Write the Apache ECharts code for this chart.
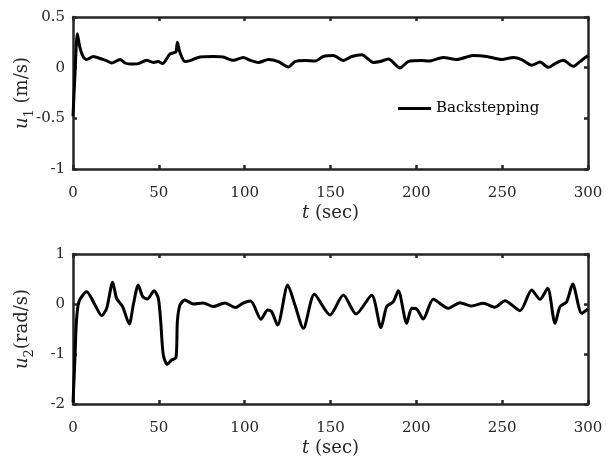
<!DOCTYPE html>
<html>
<head>
<meta charset="utf-8">
<script src="https://cdn.jsdelivr.net/npm/echarts@6/dist/echarts.min.js"></script>
<style>html,body{margin:0;padding:0;background:#fff}#c{width:606px;height:462px}</style>
</head>
<body>
<div id="c"></div>
<script>
var t1 = [0,1.2,2.5,4,6,8,11.8,16.7,19.5,22.5,27.4,30.3,33.2,38,42.9,46.8,49.7,52.2,56.5,59.4,60.1,60.8,62.3,65.2,68.2,74,81.7,87.5,93.4,99.2,103,108,113.8,119.6,125.4,129.3,135.1,141,145.8,151.6,157.5,162.3,168.2,175,178.8,183.7,190.5,195.3,203,207,215.7,223.5,233.2,241,249.7,256.5,261.4,267.2,272,276.9,280.8,285.6,291.4,295.3,300];
var u1 = [-0.48,-0.05,0.335,0.2,0.105,0.08,0.11,0.085,0.07,0.046,0.08,0.046,0.036,0.04,0.072,0.052,0.06,0.04,0.135,0.15,0.16,0.25,0.15,0.06,0.07,0.105,0.11,0.105,0.072,0.1,0.075,0.052,0.08,0.06,0.007,0.06,0.07,0.065,0.11,0.12,0.07,0.11,0.128,0.052,0.06,0.085,-0.003,0.06,0.07,0.065,0.1,0.08,0.12,0.11,0.08,0.1,0.08,0.023,0.055,0.003,0.04,0.072,0.013,0.06,0.12];
var t2 = [0,1,2,3.5,8,12.8,16.7,19.6,23.1,25.4,28.9,32.8,35.1,38,40.6,43.3,47.2,49.7,51.1,52.6,54.9,57.5,60,60.8,62.3,65.2,70.1,75.9,81.7,88.5,94.4,99.2,103.5,109.5,113.4,115.7,119.2,125.1,129.3,134.2,140.6,149.7,157.5,164.9,174,179.4,182.7,186.6,189.5,194.4,197.3,200.2,204,209.9,218.6,225.4,232.2,239,245.8,251.6,260.4,267.2,272,276.5,280.8,283.7,287.6,291.1,296.3,300];
var u2 = [-1.97,-1.2,-0.35,0.05,0.247,-0.02,-0.233,-0.087,0.433,0.113,-0.053,-0.4,-0.02,0.38,0.147,0.1,0.267,0.113,-0.353,-1.02,-1.207,-1.12,-1.073,-0.35,-0.02,0.08,0.0,0.02,-0.05,0.02,-0.07,0.02,0.06,-0.307,-0.12,-0.153,-0.42,0.38,-0.02,-0.487,0.193,-0.22,0.18,-0.2,0.173,-0.473,-0.053,0.047,0.267,-0.387,-0.087,-0.1,-0.3,0.093,-0.087,0.027,-0.04,0.013,-0.067,0.067,-0.133,0.28,0.093,0.313,-0.387,-0.053,0.047,0.4,-0.187,-0.1];
var xTicks = [0,300,50];
var y1Ticks = [-1,0.5,0.5];
var y2Ticks = [-2,1,1];
var seriesName = 'Backstepping';
var xName = '{i|t} (sec)';
var y1Name = '{i|u}{s|1} (m/s)';
var y2Name = '{i|u}{s|2}(rad/s)';

function pairs(t, v) { return t.map(function (x, i) { return [x, v[i]]; }); }

var FONT = 'DejaVu Serif';
var AX = '#262626';
var nameRich = {
  i: { fontStyle: 'italic', fontFamily: FONT, fontSize: 18, color: AX },
  s: { fontFamily: FONT, fontSize: 13, color: AX, padding: [14, 0, 0, 0] }
};

function xAx(grid, main) {
  return {
    type: 'value', gridIndex: grid, position: main ? 'bottom' : 'top',
    min: xTicks[0], max: xTicks[1], interval: xTicks[2],
    axisLine: { show: true, onZero: false, lineStyle: { color: AX, width: 2.5 } },
    axisTick: { show: true, inside: true, length: 4, lineStyle: { color: AX, width: 2.5 } },
    axisLabel: { show: main, margin: 17, fontFamily: FONT, fontSize: 15, color: AX },
    splitLine: { show: false },
    name: main ? xName : '', nameLocation: 'middle', nameGap: 35, nameMoveOverlap: false,
    nameTextStyle: { fontFamily: FONT, fontSize: 18, color: AX, rich: nameRich }
  };
}
function yAx(grid, main, ticks, nm) {
  return {
    type: 'value', gridIndex: grid, position: main ? 'left' : 'right',
    min: ticks[0], max: ticks[1], interval: ticks[2],
    axisLine: { show: true, onZero: false, lineStyle: { color: AX, width: 2.5 } },
    axisTick: { show: true, inside: true, length: 4, lineStyle: { color: AX, width: 2.5 } },
    axisLabel: { show: main, margin: 8, fontFamily: FONT, fontSize: 15, color: AX },
    splitLine: { show: false },
    name: main ? nm : '', nameLocation: 'middle', nameGap: 37, nameRotate: 90, nameMoveOverlap: false,
    nameTextStyle: { fontFamily: FONT, fontSize: 18, color: AX, rich: nameRich }
  };
}

var chart = echarts.init(document.getElementById('c'), null, { renderer: 'canvas' });
chart.setOption({
  animation: false,
  backgroundColor: '#fff',
  grid: [
    { left: 73, top: 17, width: 515, height: 152, containLabel: false, outerBoundsMode: 'none' },
    { left: 73, top: 254, width: 515, height: 150, containLabel: false, outerBoundsMode: 'none' }
  ],
  xAxis: [xAx(0, true), xAx(0, false), xAx(1, true), xAx(1, false)],
  yAxis: [yAx(0, true, y1Ticks, y1Name), yAx(0, false, y1Ticks, ''), yAx(1, true, y2Ticks, y2Name), yAx(1, false, y2Ticks, '')],
  legend: {
    data: [seriesName], left: 393, top: 96, itemWidth: 33, itemHeight: 3, icon: 'rect',
    itemStyle: { color: '#000' },
    textStyle: { fontFamily: FONT, fontSize: 15, color: '#000' },
    backgroundColor: 'transparent', borderWidth: 0
  },
  series: [
    { name: seriesName, type: 'line', xAxisIndex: 0, yAxisIndex: 0, data: pairs(t1, u1),
      showSymbol: false, symbol: 'none', smooth: 0.25, lineStyle: { color: '#000', width: 3 }, itemStyle: { color: '#000' } },
    { name: 'u2', type: 'line', xAxisIndex: 2, yAxisIndex: 2, data: pairs(t2, u2),
      showSymbol: false, symbol: 'none', smooth: 0.25, lineStyle: { color: '#000', width: 3 }, itemStyle: { color: '#000' } }
  ]
});
</script>
</body>
</html>
